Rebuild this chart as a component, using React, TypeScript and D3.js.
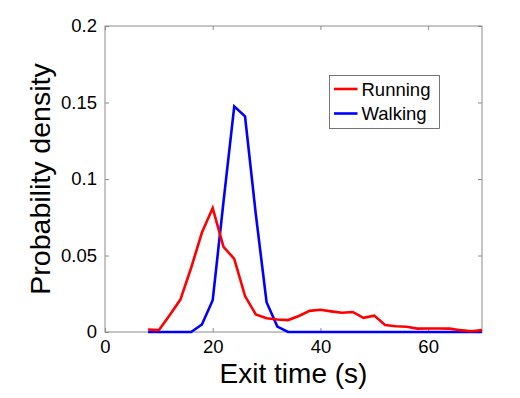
import React, { useEffect, useRef } from 'react';
import { select, scaleLinear, line, axisBottom, axisLeft, axisTop, axisRight } from 'd3';

// exit time bins (s)
const exitTimes = [8, 10, 12, 14, 16, 18, 20, 22, 24, 26, 28, 30, 32, 34, 36, 38, 40, 42, 44, 46, 48, 50, 52, 54, 56, 58, 60, 62, 64, 66, 68, 70];

const running = [0.0016, 0.0012, 0.011, 0.0212, 0.042, 0.065, 0.081, 0.0557, 0.0478, 0.0235, 0.0115, 0.009, 0.0082, 0.0078, 0.0105, 0.0138, 0.0145, 0.0135, 0.0126, 0.0131, 0.0093, 0.0107, 0.0046, 0.0038, 0.0034, 0.0022, 0.0023, 0.0023, 0.0022, 0.0012, 0.0005, 0.0012];

const walking = [0, 0, 0, 0, 0, 0.0049, 0.0208, 0.085, 0.1475, 0.141, 0.077, 0.0195, 0.0035, 0, 0, 0, 0, 0, 0, 0, 0, 0, 0, 0, 0, 0, 0, 0, 0, 0, 0, 0];

const seriesNames = ['Running', 'Walking'];
const seriesColors = ['#ff0000', '#0000ff'];

const xTicks = [0, 20, 40, 60];
const yTicks = [0, 0.05, 0.1, 0.15, 0.2];

const dims = {
  width: 520,
  height: 398,
  left: 105,
  right: 482,
  top: 26,
  bottom: 332,
};

const font = '"Liberation Sans", Arial, Helvetica, sans-serif';
const axisGray = '#8c8c8c';

function App() {
  const svgRef = useRef<SVGSVGElement | null>(null);

  useEffect(() => {
    const svg = select(svgRef.current);
    svg.selectAll('*').remove();

    const x = scaleLinear().domain([0, 70]).range([dims.left, dims.right]);
    const y = scaleLinear().domain([0, 0.2]).range([dims.bottom, dims.top]);

    // white plot box
    svg.append('rect')
      .attr('x', dims.left)
      .attr('y', dims.top)
      .attr('width', dims.right - dims.left)
      .attr('height', dims.bottom - dims.top)
      .attr('fill', '#fff')
      .attr('stroke', axisGray)
      .attr('stroke-width', 1);

    const styleAxis = (g: any, showText: boolean) => {
      g.select('.domain').remove();
      g.selectAll('.tick line').attr('stroke', axisGray);
      if (!showText) g.selectAll('.tick text').remove();
      else g.selectAll('.tick text')
        .attr('fill', '#000')
        .style('font-family', font)
        .style('font-size', '18.5px');
    };

    // bottom
    svg.append('g')
      .attr('transform', `translate(0, ${dims.bottom})`)
      .call(axisBottom(x).tickValues(xTicks).tickSize(-4).tickPadding(8).tickFormat(d => `${d}`))
      .call((g: any) => styleAxis(g, true));
    // top
    svg.append('g')
      .attr('transform', `translate(0, ${dims.top})`)
      .call(axisTop(x).tickValues(xTicks).tickSize(-4))
      .call((g: any) => styleAxis(g, false));
    // left
    svg.append('g')
      .attr('transform', `translate(${dims.left}, 0)`)
      .call(axisLeft(y).tickValues(yTicks).tickSize(-4).tickPadding(8).tickFormat(d => `${d}`))
      .call((g: any) => styleAxis(g, true));
    // right
    svg.append('g')
      .attr('transform', `translate(${dims.right}, 0)`)
      .call(axisRight(y).tickValues(yTicks).tickSize(-4))
      .call((g: any) => styleAxis(g, false));

    const series = [running, walking];
    const path = line<number>()
      .x((_, i) => x(exitTimes[i]))
      .y(d => y(d));

    // walking drawn first, running on top
    [1, 0].forEach(s => {
      svg.append('path')
        .datum(series[s])
        .attr('d', path)
        .attr('fill', 'none')
        .attr('stroke', seriesColors[s])
        .attr('stroke-width', 2.6)
        .attr('stroke-linejoin', 'miter');
    });

    // legend
    const lg = svg.append('g');
    lg.append('rect')
      .attr('x', 329.5)
      .attr('y', 75.5)
      .attr('width', 110)
      .attr('height', 53)
      .attr('fill', '#fff')
      .attr('stroke', '#555')
      .attr('stroke-width', 0.8);
    seriesNames.forEach((name, i) => {
      const cy = 89 + i * 24.5;
      lg.append('line')
        .attr('x1', 334).attr('x2', 357.5)
        .attr('y1', cy).attr('y2', cy)
        .attr('stroke', seriesColors[i])
        .attr('stroke-width', 2.6);
      lg.append('text')
        .attr('x', 361.5)
        .attr('y', cy + 6.5)
        .style('font-family', font)
        .style('font-size', '18.5px')
        .text(name);
    });

    // axis titles
    svg.append('text')
      .attr('x', (dims.left + dims.right) / 2)
      .attr('y', 382.5)
      .attr('text-anchor', 'middle')
      .style('font-family', font)
      .style('font-size', '28px')
      .text('Exit time (s)');
    svg.append('text')
      .attr('transform', `translate(50, ${(dims.top + dims.bottom) / 2}) rotate(-90)`)
      .attr('text-anchor', 'middle')
      .style('font-family', font)
      .style('font-size', '28.5px')
      .text('Probability density');
  }, []);

  return (
    <div>
      <svg
        ref={svgRef}
        width={dims.width}
        height={dims.height}
        style={{ position: 'absolute', left: 0, top: 0, background: '#fff' }}
      />
    </div>
  );
}

export default App;
